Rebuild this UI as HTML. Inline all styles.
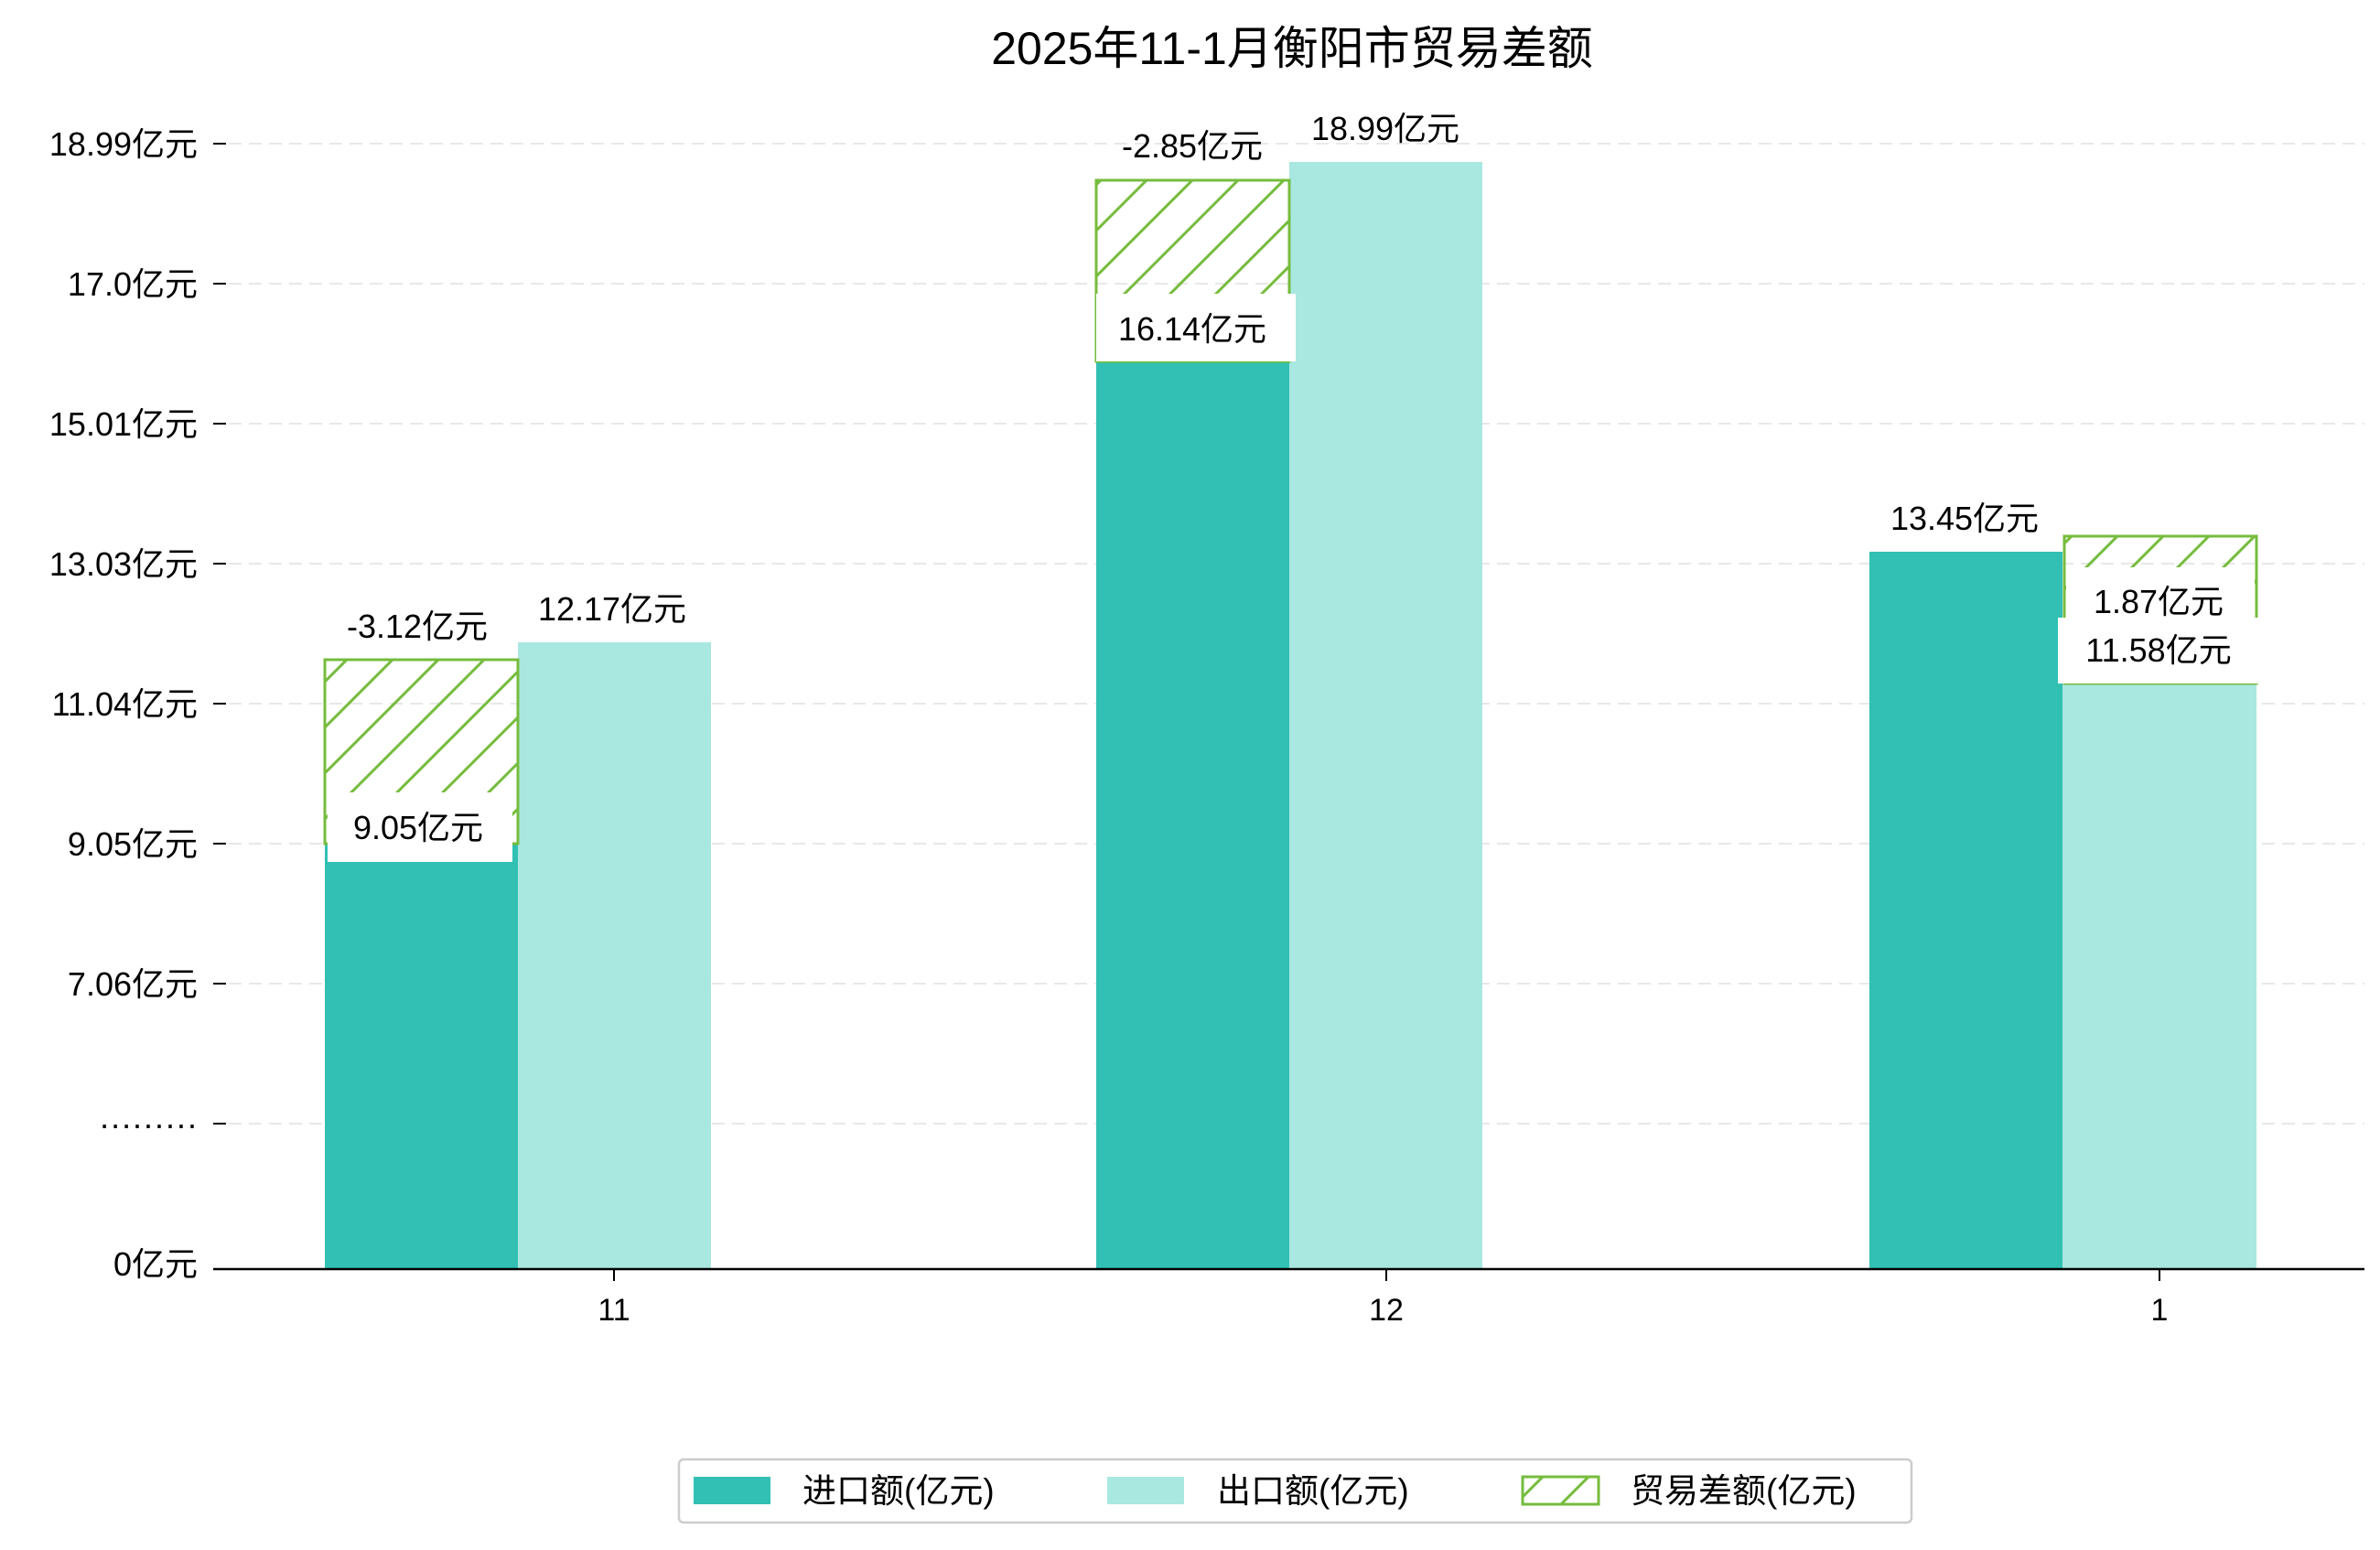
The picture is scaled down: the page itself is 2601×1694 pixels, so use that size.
<!DOCTYPE html>
<html><head><meta charset="utf-8"><style>
body{margin:0;background:#fff}
svg text{font-family:"WenQuanYi Zen Hei","Liberation Sans","Noto Sans CJK SC",sans-serif;fill:#000}
</style></head><body>
<svg width="2601" height="1689" viewBox="0 0 2601 1689" xmlns="http://www.w3.org/2000/svg">
<defs>
<pattern id="h" patternUnits="userSpaceOnUse" width="50" height="50">
<path d="M-10,60 L60,-10 M-10,10 L10,-10 M40,60 L60,40" stroke="#76BC3E" stroke-width="3"/>
</pattern>
</defs>
<text x="1412" y="70" font-size="50" text-anchor="middle">2025年11-1月衡阳市贸易差额</text>
<g stroke="#e8e8e8" stroke-width="2" stroke-dasharray="14,8">
<line x1="250" y1="157" x2="2584" y2="157"/><line x1="250" y1="310" x2="2584" y2="310"/>
<line x1="250" y1="463" x2="2584" y2="463"/><line x1="250" y1="616" x2="2584" y2="616"/>
<line x1="250" y1="769" x2="2584" y2="769"/><line x1="250" y1="922" x2="2584" y2="922"/>
<line x1="250" y1="1075" x2="2584" y2="1075"/><line x1="250" y1="1228" x2="2584" y2="1228"/>
</g>
<g stroke="#000" stroke-width="2">
<line x1="233" y1="157" x2="247" y2="157"/><line x1="233" y1="310" x2="247" y2="310"/>
<line x1="233" y1="463" x2="247" y2="463"/><line x1="233" y1="616" x2="247" y2="616"/>
<line x1="233" y1="769" x2="247" y2="769"/><line x1="233" y1="922" x2="247" y2="922"/>
<line x1="233" y1="1075" x2="247" y2="1075"/><line x1="233" y1="1228" x2="247" y2="1228"/>
</g>
<g font-size="36" text-anchor="end">
<text x="216" y="170">18.99亿元</text><text x="216" y="323">17.0亿元</text>
<text x="216" y="476">15.01亿元</text><text x="216" y="629">13.03亿元</text>
<text x="216" y="782">11.04亿元</text><text x="216" y="935">9.05亿元</text>
<text x="216" y="1088">7.06亿元</text><text x="216" y="1241">·········</text>
<text x="216" y="1394">0亿元</text>
</g>
<rect x="355" y="922" width="211" height="465" fill="#31C0B3"/>
<rect x="566" y="702" width="211" height="685" fill="#A9E7E1"/>
<rect x="355" y="721" width="211" height="201" fill="url(#h)" stroke="#76BC3E" stroke-width="3"/>
<rect x="1198" y="395" width="211" height="992" fill="#31C0B3"/>
<rect x="1409" y="177" width="211" height="1210" fill="#A9E7E1"/>
<rect x="1198" y="197" width="211" height="198" fill="url(#h)" stroke="#76BC3E" stroke-width="3"/>
<rect x="2043" y="603" width="211" height="784" fill="#31C0B3"/>
<rect x="2254" y="747" width="212" height="640" fill="#A9E7E1"/>
<rect x="2256" y="586" width="210" height="161" fill="url(#h)" stroke="#76BC3E" stroke-width="3"/>
<rect x="358" y="866" width="202" height="76" fill="#fff"/>
<rect x="1198" y="321" width="218" height="74" fill="#fff"/>
<rect x="2258" y="620" width="206" height="55" fill="#fff"/>
<rect x="2249" y="675" width="219" height="72" fill="#fff"/>
<g font-size="36" text-anchor="middle">
<text x="456" y="697">-3.12亿元</text><text x="669" y="678">12.17亿元</text><text x="457" y="917">9.05亿元</text>
<text x="1303" y="172">-2.85亿元</text><text x="1514" y="153">18.99亿元</text><text x="1303" y="372">16.14亿元</text>
<text x="2147" y="579">13.45亿元</text><text x="2359" y="670">1.87亿元</text><text x="2359" y="723">11.58亿元</text>
</g>
<line x1="233" y1="1387" x2="2584" y2="1387" stroke="#000" stroke-width="2.5"/>
<g stroke="#000" stroke-width="2">
<line x1="671" y1="1387" x2="671" y2="1400"/><line x1="1515" y1="1387" x2="1515" y2="1400"/><line x1="2360" y1="1387" x2="2360" y2="1400"/>
</g>
<g font-size="34" text-anchor="middle">
<text x="671" y="1443">11</text><text x="1515" y="1443">12</text><text x="2360" y="1443">1</text>
</g>
<rect x="742" y="1595" width="1347" height="69" rx="5" fill="#fff" stroke="#ccc" stroke-width="2.5"/>
<rect x="758" y="1614" width="84" height="30" fill="#31C0B3"/>
<rect x="1210" y="1614" width="84" height="30" fill="#A9E7E1"/>
<rect x="1664" y="1614" width="83" height="30" fill="url(#h)" stroke="#76BC3E" stroke-width="3"/>
<g font-size="37">
<text x="877" y="1642">进口额(亿元)</text><text x="1330" y="1642">出口额(亿元)</text><text x="1782" y="1642">贸易差额(亿元)</text>
</g>
</svg>
</body></html>
